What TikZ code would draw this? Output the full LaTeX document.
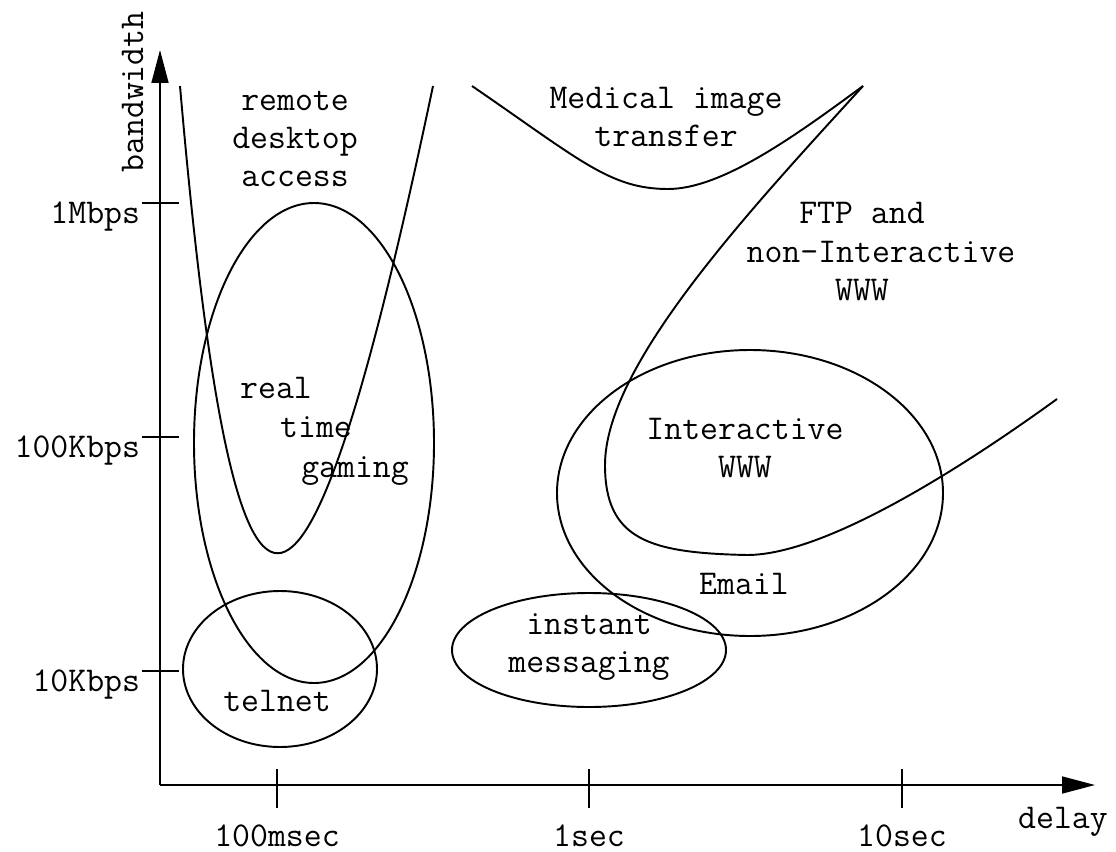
\documentclass[tikz,border=0pt]{standalone}
\usepackage{fontspec}
\usetikzlibrary{arrows.meta}

\begin{document}
\begin{tikzpicture}[x=0.02cm, y=-0.02cm, line width=1.1pt,
    every node/.style={inner sep=0pt, font=\ttfamily\fontsize{19.8}{21.8}\selectfont},
    axis/.style={-{Triangle[length=18.7pt, width=9.6pt]}},
    tick/.style={line width=1.1pt}]
            \useasboundingbox (0,0) rectangle (1116,852);
            % axes
            \coordinate (origin) at (160,785);
            \coordinate (xend) at (1095,785);
            \coordinate (yend) at (160,50);
            \draw[axis] (origin) -- (xend);
            \draw[axis] (origin) -- (yend);
            \node[anchor=base] (delay) at (1063,828) {delay};
            \node[anchor=base, rotate=90] (bandwidth) at (143,92) {bandwidth};
            % ticks on delay axis
            \coordinate (t1a) at (277,769);
            \coordinate (t1b) at (277,808);
            \coordinate (t2a) at (589,769);
            \coordinate (t2b) at (589,808);
            \coordinate (t3a) at (902,769);
            \coordinate (t3b) at (902,808);
            \draw[tick] (t1a) -- (t1b);
            \draw[tick] (t2a) -- (t2b);
            \draw[tick] (t3a) -- (t3b);
            \node[anchor=base] (ms100) at (277,846) {100msec};
            \node[anchor=base] (sec1) at (589,846) {1sec};
            \node[anchor=base] (sec10) at (902,846) {10sec};
            % ticks on bandwidth axis
            \coordinate (b1a) at (142,203);
            \coordinate (b1b) at (179,203);
            \coordinate (b2a) at (142,437);
            \coordinate (b2b) at (179,437);
            \coordinate (b3a) at (142,671);
            \coordinate (b3b) at (179,671);
            \draw[tick] (b1a) -- (b1b);
            \draw[tick] (b2a) -- (b2b);
            \draw[tick] (b3a) -- (b3b);
            \node[anchor=base east] (mbps1) at (141,223) {1Mbps};
            \node[anchor=base east] (kbps100) at (141,457) {100Kbps};
            \node[anchor=base east] (kbps10) at (141,691) {10Kbps};
            % regions
            \coordinate (gaming) at (314,443);
            \coordinate (telnet) at (280,669);
            \coordinate (im) at (589,650);
            \coordinate (www) at (750,493);
            \draw (gaming) ellipse (120 and 240);
            \draw (telnet) ellipse (97 and 78);
            \draw (im) ellipse (137 and 57);
            \draw (www) ellipse (193 and 143);
            % curves
            \draw (180,86) .. controls (234,709) and (302,709) .. (433,86);
            \draw (472,86) .. controls (580,160) and (610,189) .. (668,189)
                  .. controls (720,189) and (790,140) .. (863,86);
            \draw (863,86) .. controls (750,210) and (605,365) .. (605,465)
                  .. controls (605,540) and (650,553) .. (747,555)
                  .. controls (830,555) and (977,457) .. (1057,399);
            % labels
            \node[align=center] (remote) at (295,139) {remote\\desktop\\access};
            \node[anchor=base] (rt1) at (276,398) {real};
            \node[anchor=base] (rt2) at (316,437) {time};
            \node[anchor=base] (rt3) at (355,477) {gaming};
            \node[anchor=base] (telnetlbl) at (277,711) {telnet};
            \node[align=center] (medical) at (666,117) {Medical image\\transfer};
            \node[anchor=base] (ftp1) at (862,223) {FTP and};
            \node[anchor=base] (ftp2) at (881,262) {non-Interactive};
            \node[anchor=base] (ftp3) at (862,300) {WWW};
            \node[align=center] (iwww) at (745,448) {Interactive\\WWW};
            \node[anchor=base] (email) at (744,594) {Email};
            \node[align=center] (instant) at (589,647) {instant\\messaging};
        \end{tikzpicture}
\end{document}
